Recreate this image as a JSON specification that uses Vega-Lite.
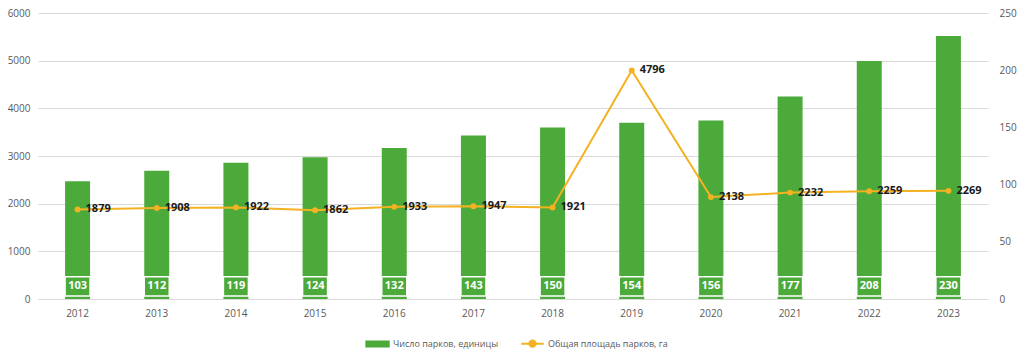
{
  "$schema": "https://vega.github.io/schema/vega-lite/v6.json",
  "width": 950,
  "height": 286,
  "autosize": {"type": "none"},
  "padding": {"left": 38, "top": 13, "right": 36, "bottom": 56},
  "background": "white",
  "config": {
    "font": "Open Sans",
    "view": {"stroke": null},
    "axis": {"labelColor": "#595959", "labelFontSize": 10, "domain": false, "ticks": false, "title": null, "gridColor": "#D9D9D9", "gridWidth": 1}
  },
  "data": {
    "values": [
      {"year": "2012", "parks": 103, "area": 1879},
      {"year": "2013", "parks": 112, "area": 1908},
      {"year": "2014", "parks": 119, "area": 1922},
      {"year": "2015", "parks": 124, "area": 1862},
      {"year": "2016", "parks": 132, "area": 1933},
      {"year": "2017", "parks": 143, "area": 1947},
      {"year": "2018", "parks": 150, "area": 1921},
      {"year": "2019", "parks": 154, "area": 4796},
      {"year": "2020", "parks": 156, "area": 2138},
      {"year": "2021", "parks": 177, "area": 2232},
      {"year": "2022", "parks": 208, "area": 2259},
      {"year": "2023", "parks": 230, "area": 2269}
    ]
  },
  "encoding": {
    "x": {"field": "year", "type": "ordinal", "scale": {"paddingInner": 0, "paddingOuter": 0}, "axis": {"labelAngle": 0, "labelPadding": 9, "grid": false}}
  },
  "layer": [
    {
      "layer": [
        {
          "mark": {"type": "bar", "size": 25},
          "encoding": {
            "y": {"field": "parks", "type": "quantitative", "scale": {"domain": [0, 250], "nice": false}, "axis": {"orient": "right", "values": [0, 50, 100, 150, 200, 250], "grid": false, "labelPadding": 11}},
            "color": {
              "datum": "Число парков, единицы",
              "scale": {"domain": ["Число парков, единицы", "Общая площадь парков, га"], "range": ["#4BAA3A", "#F4B223"]},
              "legend": {
                "orient": "none", "legendX": 327, "legendY": 318, "direction": "horizontal", "title": null, "labelFontSize": 9, "labelColor": "#595959", "symbolSize": 500, "columnPadding": 18, "labelOffset": 3,
                "encode": {"symbols": {"update": {
                  "shape": {"signal": "datum.value === 'Число парков, единицы' ? 'M-1,-0.22H1V0.22H-1Z' : 'M-1,0H1M-0.28,0A0.28,0.28 0 1,1 0.28,0A0.28,0.28 0 1,1 -0.28,0'"},
                  "fill": {"signal": "datum.value === 'Число парков, единицы' ? '#4BAA3A' : '#F4B223'"},
                  "stroke": {"signal": "datum.value === 'Число парков, единицы' ? '#4BAA3A' : '#F4B223'"},
                  "strokeWidth": {"value": 2},
                  "opacity": {"value": 1}
                }}}
              }
            }
          }
        },
        {
          "mark": {"type": "bar", "size": 25, "fill": "#4BAA3A", "stroke": "white", "strokeWidth": 1.5},
          "encoding": {"y": {"datum": 2.6}, "y2": {"datum": 19.4}}
        },
        {
          "mark": {"type": "text", "color": "white", "fontWeight": "bold", "fontSize": 11, "baseline": "middle"},
          "encoding": {"y": {"datum": 11}, "text": {"field": "parks", "type": "quantitative", "format": "d"}}
        }
      ]
    },
    {
      "layer": [
        {
          "mark": {"type": "line", "strokeWidth": 2, "point": {"filled": true, "size": 35}},
          "encoding": {
            "y": {"field": "area", "type": "quantitative", "scale": {"domain": [0, 6000], "nice": false}, "axis": {"orient": "left", "values": [0, 1000, 2000, 3000, 4000, 5000, 6000], "grid": true, "format": "d", "labelPadding": 8}},
            "color": {"datum": "Общая площадь парков, га"}
          }
        },
        {
          "mark": {"type": "text", "align": "left", "dx": 8, "fontWeight": "bold", "fontSize": 11, "color": "#1a1a1a", "baseline": "middle"},
          "encoding": {"y": {"field": "area", "type": "quantitative"}, "text": {"field": "area", "type": "quantitative", "format": "d"}}
        }
      ]
    }
  ],
  "resolve": {"scale": {"y": "independent"}}
}
